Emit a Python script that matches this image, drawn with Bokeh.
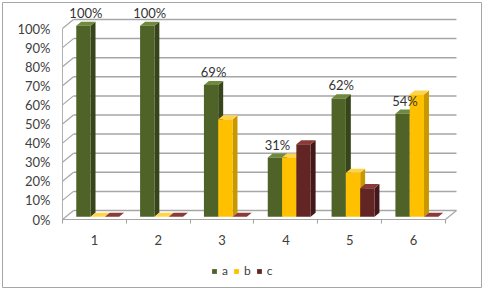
from bokeh.plotting import figure
from bokeh.models import FixedTicker, Legend, LegendItem, Range1d
from bokeh.core.properties import value
from bokeh.embed import file_html
from bokeh.resources import INLINE

# ---- data ----
categories = ["1", "2", "3", "4", "5", "6"]
series_names = ["a", "b", "c"]
a_values = [100, 100, 69, 31, 62, 54]
b_values = [0, 0, 51, 31, 23, 64]
c_values = [0, 0, 0, 38, 15, 0]
data_labels = ["100%", "100%", "69%", "31%", "62%", "54%"]
y_ticks = [0, 10, 20, 30, 40, 50, 60, 70, 80, 90, 100]
y_tick_labels = ["0%", "10%", "20%", "30%", "40%", "50%", "60%", "70%", "80%", "90%", "100%"]

# ---- styles ----
front_colors = ["#4f6228", "#ffc000", "#632523"]
side_colors = ["#37451b", "#c99700", "#43181a"]
top_colors = ["#6f8a3c", "#ffd44d", "#8a3b38"]
font = "Lato"

W, H = 483, 289
MB_ALL = 2
XPX = 63.83  # px per category
YPX = 1.91   # px per percent
DX = 11 / XPX   # depth offset in x units
DY = 9 / YPX    # depth offset in y units
F1, F2 = 0.3, 0.75  # bar depth range (fraction of depth)
BW = 14.3 / XPX
AXIS_X_PX = 62   # screen x of the front value axis
FLOOR_Y_PX = 219  # screen y of 0%

frame_w = W - 2 * MB_ALL
frame_h = H - 2 * MB_ALL
x_start = 0.5 - (AXIS_X_PX - MB_ALL) / XPX
y_end = (FLOOR_Y_PX - MB_ALL) / YPX

p = figure(width=W, height=H, output_backend="svg", toolbar_location=None,
           x_range=Range1d(x_start, x_start + frame_w / XPX),
           y_range=Range1d(y_end - frame_h / YPX, y_end),
           min_border_left=MB_ALL, min_border_right=MB_ALL,
           min_border_top=MB_ALL, min_border_bottom=MB_ALL)
p.outline_line_color = "#a6a6a6"
p.outline_line_width = 1
p.xgrid.visible = False
p.ygrid.visible = False
p.background_fill_color = "white"
p.border_fill_color = "white"

n = len(categories)
xs = list(range(1, n + 1))
grid_col = "#a6a6a6"

# back wall gridlines
p.segment(x0=[0.5 + DX] * len(y_ticks), y0=[t + DY for t in y_ticks],
          x1=[n + 0.5 + DX] * len(y_ticks), y1=[t + DY for t in y_ticks],
          line_color=grid_col, line_width=1.5)
# side wall diagonals
p.segment(x0=[0.5] * len(y_ticks), y0=y_ticks,
          x1=[0.5 + DX] * len(y_ticks), y1=[t + DY for t in y_ticks],
          line_color=grid_col, line_width=1.2)
# floor edges
p.segment(x0=[0.5, n + 0.5], y0=[0, 0], x1=[n + 0.5, n + 0.5 + DX], y1=[0, DY],
          line_color=grid_col, line_width=1.2)

# bars
all_values = [a_values, b_values, c_values]
ddx = (F2 - F1) * DX
ddy = (F2 - F1) * DY
front_renderers = []
for s, vals in enumerate(all_values):
    lefts, rights, tops, bottoms = [], [], [], []
    side_xs, side_ys, top_xs, top_ys = [], [], [], []
    for i, v in enumerate(vals):
        c = xs[i] + (s - 1) * BW + F1 * DX
        l, r = c - BW / 2, c + BW / 2
        b, t = F1 * DY, v + F1 * DY
        lefts.append(l); rights.append(r); tops.append(t); bottoms.append(b)
        side_xs.append([r, r + ddx, r + ddx, r])
        side_ys.append([b, b + ddy, t + ddy, t])
        top_xs.append([l, r, r + ddx, l + ddx])
        top_ys.append([t, t, t + ddy, t + ddy])
    p.patches(side_xs, side_ys, fill_color=side_colors[s], line_color=None)
    p.patches(top_xs, top_ys, fill_color=top_colors[s], line_color=None)
    fr = p.quad(left=lefts, right=rights, top=tops, bottom=bottoms,
                fill_color=front_colors[s], line_color=None)
    front_renderers.append(fr)

# data labels on series a
lab_x = [xs[i] - BW + F1 * DX + ddx / 2 for i in range(n)]
lab_y = [v + F2 * DY + 1 / YPX for v in a_values]
p.text(x=lab_x, y=lab_y, text=data_labels, text_align="center", text_baseline="bottom",
       text_font=value(font), text_font_size="13px", text_color="#333333")

# axes (drawn at fixed data locations, inside the frame)
p.yaxis.fixed_location = 0.5
p.yaxis.bounds = (0, 100)
p.yaxis.ticker = FixedTicker(ticks=y_ticks)
p.yaxis.major_label_overrides = dict(zip(y_ticks, y_tick_labels))
p.yaxis.axis_line_color = "#b0b0b0"
p.yaxis.major_tick_line_color = None
p.yaxis.major_tick_out = 0
p.yaxis.major_tick_in = 0
p.yaxis.minor_tick_line_color = None
p.yaxis.major_label_standoff = 12
p.yaxis.major_label_text_font = font
p.yaxis.major_label_text_font_size = "13px"
p.yaxis.major_label_text_color = "#404040"

p.xaxis.fixed_location = 0
p.xaxis.bounds = (0.5, n + 0.5)
p.xaxis.ticker = FixedTicker(ticks=xs, minor_ticks=[x - 0.5 for x in xs] + [n + 0.5])
p.xaxis.major_label_overrides = dict(zip(xs, categories))
p.xaxis.axis_line_color = None
p.xaxis.major_tick_line_color = None
p.xaxis.major_tick_out = 0
p.xaxis.major_tick_in = 0
p.xaxis.minor_tick_line_color = "#a0a0a0"
p.xaxis.minor_tick_out = 4
p.xaxis.minor_tick_in = 0
p.xaxis.major_label_standoff = 11
p.xaxis.major_label_text_font = font
p.xaxis.major_label_text_font_size = "13px"
p.xaxis.major_label_text_color = "#404040"

legend = Legend(items=[LegendItem(label=series_names[i], renderers=[front_renderers[i]]) for i in range(3)],
                orientation="horizontal", location=(209, 9),
                glyph_width=6, glyph_height=6, label_standoff=5, label_width=5, spacing=5,
                padding=2, margin=0, border_line_color=None, background_fill_alpha=0,
                label_text_font=font, label_text_font_size="12px", label_text_color="#404040")
p.add_layout(legend, "center")

open("out.html", "w").write(file_html(p, INLINE))
